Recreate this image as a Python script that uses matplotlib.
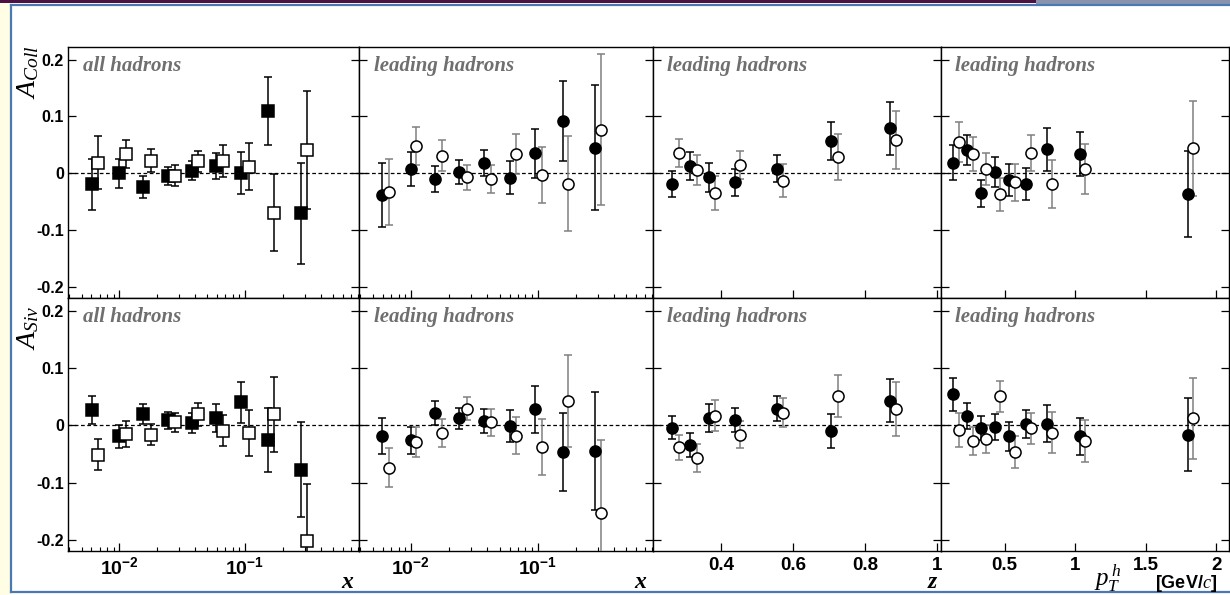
import matplotlib.pyplot as plt
import numpy as np
from matplotlib.patches import Rectangle

plt.rcParams['mathtext.fontset'] = 'custom'
plt.rcParams['mathtext.rm'] = 'Liberation Sans'
plt.rcParams['mathtext.bf'] = 'Liberation Sans:bold'
plt.rcParams['mathtext.it'] = 'Liberation Serif:italic'
plt.rcParams['font.family'] = 'Liberation Sans'

### x binning: all hadrons / leading hadrons vs x
x_pos = [0.00605, 0.0099, 0.01535, 0.0244, 0.0377, 0.0587, 0.0936, 0.152, 0.279]
x_neg = [0.0067, 0.0112, 0.0178, 0.0275, 0.0425, 0.0675, 0.1076, 0.1695, 0.311]
x_pos_lead = [0.00594, 0.0100, 0.0154, 0.0241, 0.038, 0.0601, 0.0957, 0.157, 0.283]
x_neg_lead = [0.00673, 0.0110, 0.0176, 0.0277, 0.0425, 0.0671, 0.1076, 0.172, 0.318]
z_pos = [0.263, 0.313, 0.365, 0.437, 0.556, 0.706, 0.871]
z_neg = [0.283, 0.332, 0.382, 0.452, 0.573, 0.725, 0.886]
pt_pos = [0.135, 0.237, 0.33, 0.436, 0.53, 0.653, 0.80, 1.034, 1.802]
pt_neg = [0.175, 0.276, 0.366, 0.465, 0.571, 0.688, 0.837, 1.07, 1.835]

# Collins asymmetry (top row)
coll_x_pos = [-0.019, 0.000, -0.024, -0.005, 0.005, 0.013, 0.001, 0.110, -0.070]
coll_x_pos_err = [0.045, 0.025, 0.019, 0.016, 0.016, 0.023, 0.037, 0.060, 0.089]
coll_x_neg = [0.019, 0.034, 0.022, -0.004, 0.021, 0.021, 0.012, -0.069, 0.041]
coll_x_neg_err = [0.047, 0.025, 0.020, 0.018, 0.019, 0.028, 0.042, 0.067, 0.103]

coll_xl_pos = [-0.038, 0.008, -0.010, 0.002, 0.018, -0.008, 0.035, 0.092, 0.045]
coll_xl_pos_err = [0.057, 0.030, 0.023, 0.021, 0.023, 0.029, 0.043, 0.071, 0.110]
coll_xl_neg = [-0.032, 0.048, 0.031, -0.007, -0.010, 0.034, -0.003, -0.018, 0.077]
coll_xl_neg_err = [0.058, 0.033, 0.027, 0.022, 0.024, 0.035, 0.049, 0.084, 0.133]

coll_z_pos = [-0.019, 0.013, -0.007, -0.016, 0.008, 0.057, 0.079]
coll_z_pos_err = [0.023, 0.024, 0.026, 0.023, 0.024, 0.034, 0.046]
coll_z_neg = [0.036, 0.006, -0.035, 0.015, -0.013, 0.029, 0.059]
coll_z_neg_err = [0.025, 0.027, 0.030, 0.025, 0.029, 0.040, 0.051]

coll_pt_pos = [0.019, 0.041, -0.035, 0.002, -0.012, -0.018, 0.042, 0.034, -0.036]
coll_pt_pos_err = [0.031, 0.026, 0.024, 0.026, 0.028, 0.028, 0.037, 0.039, 0.076]
coll_pt_neg = [0.055, 0.034, 0.008, -0.037, -0.016, 0.036, -0.019, 0.008, 0.044]
coll_pt_neg_err = [0.035, 0.029, 0.028, 0.029, 0.032, 0.032, 0.042, 0.044, 0.084]

# Sivers asymmetry (bottom row)
siv_x_pos = [0.027, -0.019, 0.020, 0.009, 0.004, 0.013, 0.040, -0.026, -0.077]
siv_x_pos_err = [0.025, 0.020, 0.018, 0.015, 0.018, 0.024, 0.036, 0.056, 0.083]
siv_x_neg = [-0.051, -0.015, -0.016, 0.005, 0.019, -0.009, -0.013, 0.019, -0.202]
siv_x_neg_err = [0.027, 0.022, 0.018, 0.017, 0.020, 0.027, 0.040, 0.066, 0.100]

siv_xl_pos = [-0.019, -0.026, 0.022, 0.012, 0.008, -0.001, 0.028, -0.046, -0.044]
siv_xl_pos_err = [0.031, 0.024, 0.021, 0.019, 0.021, 0.028, 0.041, 0.068, 0.103]
siv_xl_neg = [-0.074, -0.029, -0.013, 0.029, 0.005, -0.018, -0.038, 0.042, -0.153]
siv_xl_neg_err = [0.034, 0.027, 0.024, 0.020, 0.024, 0.032, 0.049, 0.080, 0.128]

siv_z_pos = [-0.004, -0.035, 0.013, 0.009, 0.029, -0.010, 0.043]
siv_z_pos_err = [0.020, 0.021, 0.024, 0.021, 0.022, 0.030, 0.038]
siv_z_neg = [-0.038, -0.057, 0.017, -0.016, 0.022, 0.051, 0.028]
siv_z_neg_err = [0.022, 0.024, 0.027, 0.024, 0.025, 0.037, 0.047]

siv_pt_pos = [0.054, 0.016, -0.004, -0.003, -0.019, 0.002, 0.003, -0.019, -0.016]
siv_pt_pos_err = [0.029, 0.023, 0.021, 0.023, 0.025, 0.024, 0.032, 0.032, 0.063]
siv_pt_neg = [-0.008, -0.027, -0.024, 0.051, -0.047, -0.005, -0.013, -0.027, 0.012]
siv_pt_neg_err = [0.030, 0.024, 0.025, 0.027, 0.028, 0.027, 0.036, 0.037, 0.070]

W, H = 1230, 595
fig = plt.figure(figsize=(W / 100, H / 100), dpi=100)

# slide-like frame around the figure
fig.patches.append(Rectangle((0, 0), 10 / W, 1, transform=fig.transFigure,
                             facecolor='#fffde3', edgecolor='none', zorder=-5))
fig.patches.append(Rectangle((0, 1 - 3 / H), 1, 3 / H, transform=fig.transFigure,
                             facecolor='#4a1142', edgecolor='none'))
fig.patches.append(Rectangle((1036 / W, 1 - 4 / H), 1, 4 / H, transform=fig.transFigure,
                             facecolor='#8a93ad', edgecolor='none'))
fig.lines.append(plt.Line2D([11 / W, 11 / W], [3 / H, 1 - 5 / H], transform=fig.transFigure,
                            color='#4a78b0', lw=1.6))
fig.lines.append(plt.Line2D([11 / W, 1], [1 - 5 / H, 1 - 5 / H], transform=fig.transFigure,
                            color='#4a78b0', lw=1.6))
fig.lines.append(plt.Line2D([11 / W, 1], [3 / H, 3 / H], transform=fig.transFigure,
                            color='#4a78b0', lw=1.6))

lefts = [68, 359, 653, 941]
rights = [359, 653, 941, 1229]
rows = [(47, 298), (298, 551)]

gray_txt = '#6f6f6f'
err_gray = '#808080'


def make_ax(col, row):
    top, bot = rows[row]
    ax = fig.add_axes([lefts[col] / W, 1 - bot / H, (rights[col] - lefts[col]) / W, (bot - top) / H])
    ax.set_ylim(-0.219, 0.222)
    ax.set_yticks([-0.2, -0.1, 0, 0.1, 0.2])
    ax.axhline(0, color='k', lw=0.9, ls=(0, (3, 2)), zorder=1)
    for s in ax.spines.values():
        s.set_linewidth(1.0)
    ax.tick_params(axis='both', direction='in', length=6, width=0.9, labelsize=11.5,
                   right=True, top=False)
    ax.tick_params(axis='x', labelsize=13.5)
    ax.tick_params(axis='both', which='minor', direction='in', length=3, width=0.8, top=False)
    ax.tick_params(axis='y', which='minor', left=False, right=False)
    if col == 0:
        ax.set_yticklabels(['-0.2', '-0.1', '0', '0.1', '0.2'], fontweight='bold')
        ax.tick_params(axis='y', pad=3)
    else:
        ax.set_yticklabels([])
    return ax


def points(ax, x, y, e, filled, square, ecol='k'):
    mk = 's' if square else 'o'
    ax.errorbar(x, y, yerr=e, fmt=mk, ms=8.5 if square else 8, mfc='k' if filled else 'white',
                mec='k', mew=1.1, ecolor=ecol, elinewidth=1.1, capsize=3, capthick=1.1, zorder=3)


def label(ax, txt):
    ax.text(0.05, 0.925, txt, transform=ax.transAxes, ha='left', va='center', color=gray_txt,
            family='Liberation Serif', style='italic', fontweight='bold', fontsize=15)


def log_axis(ax, show):
    ax.set_xscale('log')
    ax.set_xlim(0.0039, 0.81)
    ax.set_xticks([0.01, 0.1])
    ax.set_xticklabels([r'$\mathbf{10^{-2}}$', r'$\mathbf{10^{-1}}$'] if show else [], fontsize=14)


data = [
    [(x_pos, coll_x_pos, coll_x_pos_err, x_neg, coll_x_neg, coll_x_neg_err, True, 'all hadrons'),
     (x_pos_lead, coll_xl_pos, coll_xl_pos_err, x_neg_lead, coll_xl_neg, coll_xl_neg_err, False, 'leading hadrons'),
     (z_pos, coll_z_pos, coll_z_pos_err, z_neg, coll_z_neg, coll_z_neg_err, False, 'leading hadrons'),
     (pt_pos, coll_pt_pos, coll_pt_pos_err, pt_neg, coll_pt_neg, coll_pt_neg_err, False, 'leading hadrons')],
    [(x_pos, siv_x_pos, siv_x_pos_err, x_neg, siv_x_neg, siv_x_neg_err, True, 'all hadrons'),
     (x_pos_lead, siv_xl_pos, siv_xl_pos_err, x_neg_lead, siv_xl_neg, siv_xl_neg_err, False, 'leading hadrons'),
     (z_pos, siv_z_pos, siv_z_pos_err, z_neg, siv_z_neg, siv_z_neg_err, False, 'leading hadrons'),
     (pt_pos, siv_pt_pos, siv_pt_pos_err, pt_neg, siv_pt_neg, siv_pt_neg_err, False, 'leading hadrons')],
]

for row in range(2):
    show = row == 1
    for col in range(4):
        ax = make_ax(col, row)
        xp, yp, ep, xn, yn, en, square, txt = data[row][col]
        if col < 2:
            log_axis(ax, show)
        elif col == 2:
            ax.set_xlim(0.21, 1.012)
            ax.set_xticks([0.4, 0.6, 0.8, 1.0])
            ax.set_xticklabels(['0.4', '0.6', '0.8', '1'] if show else [], fontweight='bold')
        else:
            ax.set_xlim(0.05, 2.09)
            ax.set_xticks([0.5, 1.0, 1.5, 2.0])
            ax.set_xticklabels(['0.5', '1', '1.5', '2'] if show else [], fontweight='bold')
        ax.tick_params(axis='x', pad=4)
        points(ax, xp, yp, ep, True, square)
        points(ax, xn, yn, en, False, square, 'k' if square else err_gray)
        label(ax, txt)

# axis titles
fig.text(28 / W, 1 - 72 / H, r'$A_{Coll}$', rotation=90, ha='center', va='center', fontsize=20)
fig.text(28 / W, 1 - 328 / H, r'$A_{Siv}$', rotation=90, ha='center', va='center', fontsize=20)
for xx, t in [(347, 'x'), (640, 'x'), (932, 'z')]:
    fig.text(xx / W, 1 - 582 / H, t, ha='center', va='center', fontsize=17,
             family='Liberation Serif', style='italic', fontweight='bold')
fig.text(1108 / W, 1 - 578 / H, r'$p_T^{\,h}$', ha='center', va='center', fontsize=18)
fig.text(1186 / W, 1 - 584 / H, r'[GeV/$c$]', ha='center', va='center', fontsize=13,
         fontweight='bold')

fig.savefig('out.png', dpi=100)
